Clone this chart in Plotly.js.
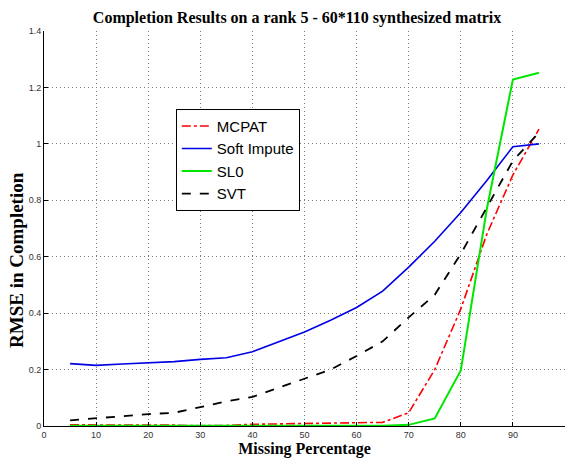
<!DOCTYPE html>
<html>
<head>
<meta charset="utf-8">
<script src="https://cdn.plot.ly/plotly-3.0.1.min.js"></script>
<style>
  html, body { margin: 0; padding: 0; background: #fff; }
  #chart { width: 568px; height: 460px; }
</style>
</head>
<body>
<div id="chart"></div>
<script>
// Missing percentage on the x axis
const missing = [5, 10, 15, 20, 25, 30, 35, 40, 45, 50, 55, 60, 65, 70, 75, 80, 85, 90, 95];

// RMSE, one array per method
const mcpat = [0.004, 0.004, 0.003, 0.003, 0.003, 0.001, 0.002, 0.006, 0.007, 0.009, 0.010, 0.012, 0.013, 0.047, 0.200, 0.415, 0.680, 0.890, 1.052];
const softImpute = [0.221, 0.215, 0.220, 0.224, 0.228, 0.236, 0.242, 0.263, 0.297, 0.333, 0.375, 0.420, 0.478, 0.563, 0.655, 0.757, 0.870, 0.990, 1.000];
const sl0 = [0.001, 0.001, 0.001, 0.001, 0.001, 0.001, 0.001, 0.001, 0.001, 0.001, 0.001, 0.001, 0.001, 0.004, 0.027, 0.197, 0.770, 1.228, 1.252];
const svt = [0.020, 0.028, 0.035, 0.042, 0.047, 0.068, 0.087, 0.103, 0.135, 0.168, 0.200, 0.248, 0.300, 0.385, 0.465, 0.610, 0.775, 0.940, 1.040];

const xTicks = [0, 10, 20, 30, 40, 50, 60, 70, 80, 90, 100];
const yTicks = [0, 0.2, 0.4, 0.6, 0.8, 1, 1.2, 1.4];
const yTickText = ['0', '0.2', '0.4', '0.6', '0.8', '1', '1.2', '1.4'];

const serif = '"Liberation Serif", "Times New Roman", serif';
const narrow = '"Liberation Sans Narrow", "Arial Narrow", "Liberation Sans", sans-serif';

const data = [
    { x: missing, y: mcpat, type: 'scatter', mode: 'lines', name: 'MCPAT',
      line: {color: '#ff0000', width: 1.6, dash: 'dashdot'} },
    { x: missing, y: softImpute, type: 'scatter', mode: 'lines', name: 'Soft Impute',
      line: {color: '#0000e6', width: 1.6} },
    { x: missing, y: sl0, type: 'scatter', mode: 'lines', name: 'SL0',
      line: {color: '#00e600', width: 2} },
    { x: missing, y: svt, type: 'scatter', mode: 'lines', name: 'SVT',
      line: {color: '#000000', width: 1.8, dash: 'dash'} },
];

const gridStyle = {showgrid: true, gridcolor: '#7a7a7a', griddash: '1px,3px', gridwidth: 1};

const layout = {
    width: 568,
    height: 460,
    margin: {l: 44, r: 3, t: 31, b: 34},
    paper_bgcolor: '#ffffff',
    plot_bgcolor: '#ffffff',
    title: {
        text: '<b>Completion Results on a rank 5 - 60*110 synthesized matrix</b>',
        font: {family: serif, size: 16, color: '#000'},
        x: 0.523, xanchor: 'center', y: 0.963, yanchor: 'middle',
    },
    xaxis: Object.assign({
        title: {text: '<b>Missing Percentage</b>', font: {family: serif, size: 16, color: '#000'}, standoff: 4},
        range: [0, 100],
        tickvals: xTicks,
        ticks: 'inside', ticklen: 4, tickcolor: '#000',
        showline: true, linecolor: '#000', linewidth: 1,
        zeroline: false,
        tickfont: {family: narrow, size: 9, color: '#333'},
    }, gridStyle),
    yaxis: Object.assign({
        range: [0, 1.4],
        tickvals: yTicks,
        ticktext: yTickText,
        ticks: 'inside', ticklen: 4, tickcolor: '#000',
        showline: true, linecolor: '#000', linewidth: 1,
        zeroline: false,
        tickfont: {family: narrow, size: 9, color: '#333'},
    }, gridStyle),
    // y title sits lower than the plot centre in the original, so place it by hand
    annotations: [{
        text: '<b>RMSE in Completion</b>',
        xref: 'paper', yref: 'paper', x: -0.054, y: 0.42,
        xanchor: 'center', yanchor: 'middle', textangle: -90, showarrow: false,
        font: {family: serif, size: 19, color: '#000'},
    }],
    showlegend: true,
    legend: {
        x: 0.253, y: 0.803, xanchor: 'left', yanchor: 'top',
        bgcolor: '#ffffff', bordercolor: '#000', borderwidth: 1,
        font: {family: '"Liberation Sans", Arial, sans-serif', size: 15, color: '#000'},
        tracegroupgap: 0,
    },
};

Plotly.newPlot('chart', data, layout, {displayModeBar: false, staticPlot: true});
</script>
</body>
</html>
